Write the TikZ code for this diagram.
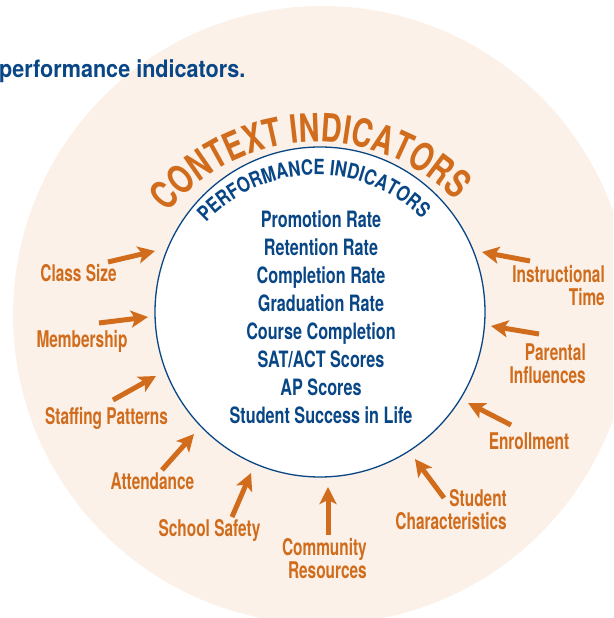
\documentclass[tikz,border=0pt]{standalone}
\usepackage{fontspec}
\usetikzlibrary{arrows.meta,decorations.text}
\setmainfont{TeX Gyre Heros}
\newfontfamily\lblfont[FakeStretch=0.67]{TeX Gyre Heros}
\newfontfamily\listfont[FakeStretch=0.72]{TeX Gyre Heros}
\newfontfamily\ctxfont[FakeStretch=0.74]{TeX Gyre Heros}
\newfontfamily\perffont[FakeStretch=0.8]{TeX Gyre Heros}
\newfontfamily\ttlfont[FakeStretch=0.9]{TeX Gyre Heros}
\definecolor{ctxorange}{RGB}{208,108,28}
\definecolor{perfblue}{RGB}{8,70,134}
\definecolor{beige}{RGB}{251,241,232}
\tikzset{
  ctxlabel/.style={text=ctxorange, font=\lblfont\bfseries\fontsize{23}{23}\selectfont, inner sep=0pt, align=right},
  ctxarrow/.style={draw=ctxorange, line width=5pt, -{Stealth[length=17pt,width=17pt,inset=4pt]}},
  listtext/.style={text=perfblue, font=\listfont\bfseries\fontsize{22.5}{28}\selectfont, inner sep=0pt, align=center},
  innercircle/.style={circle, fill=white, draw=perfblue, line width=1.3pt, minimum size=330pt, inner sep=0pt}
}
\begin{document}
\begin{tikzpicture}[x=1pt,y=1pt]
\useasboundingbox (0,0) rectangle (613,618);
\begin{scope}
  \clip (0,0) rectangle (613,618);
  \fill[beige] (322,303) circle[radius=309];
\end{scope}
\node[innercircle] (inner) at (320,306) {};
% title
\node[anchor=base west, inner sep=0pt, text=perfblue, font=\ttlfont\bfseries\fontsize{24}{24}\selectfont] (title) at (-1,540) {performance indicators.};
% arc titles
\path[decorate, decoration={text along path, text={|\ctxfont\bfseries\fontsize{39}{39}\selectfont|CONTEXT INDICATORS}, text align=center, text color=ctxorange}]
  (317,283) ++(152.5:193) arc[start angle=152.5, end angle=32.5, radius=193];
\path[decorate, decoration={text along path, text={|\perffont\bfseries\fontsize{21}{21}\selectfont|PERFORMANCE INDICATORS}, text align=center, text color=perfblue}]
  (316,293) ++(151:150) arc[start angle=151, end angle=31, radius=150];
% performance list
\node[listtext, anchor=north] (perflist) at (321,407.4) {Promotion Rate\\Retention Rate\\Completion Rate\\Graduation Rate\\Course Completion\\SAT/ACT Scores\\AP Scores\\Student Success in Life};
% context labels
\node[ctxlabel, anchor=base] (clsz) at (78.5,336.3) {Class Size};
\node[ctxlabel, anchor=base] (memb) at (82,270) {Membership};
\node[ctxlabel, anchor=base] (staff) at (106.5,193) {Staffing Patterns};
\node[ctxlabel, anchor=base] (attend) at (152.5,128) {Attendance};
\node[ctxlabel, anchor=base] (safety) at (209.5,81) {School Safety};
\node[ctxlabel, anchor=north east] (commres) at (367,79.7) {Community\\Resources};
\node[ctxlabel, anchor=north east] (studch) at (507,128.7) {Student\\Characteristics};
\node[ctxlabel, anchor=base] (enroll) at (529,168) {Enrollment};
\node[ctxlabel, anchor=north east] (parent) at (586,274.7) {Parental\\Influences};
\node[ctxlabel, anchor=north east] (instr) at (605,353) {Instructional\\Time};
% arrows
\coordinate (t1) at (108,356);  \coordinate (h1) at (155,367);
\coordinate (t2) at (99,295);   \coordinate (h2) at (148,301);
\coordinate (t3) at (113,218);  \coordinate (h3) at (156,242);
\coordinate (t4) at (162,148);  \coordinate (h4) at (194,184);
\coordinate (t5) at (232,101);  \coordinate (h5) at (251,145);
\coordinate (t6) at (328,83);   \coordinate (h6) at (328,131);
\coordinate (t7) at (444,120);  \coordinate (h7) at (415,159);
\coordinate (t8) at (511,193);  \coordinate (h8) at (468,215);
\coordinate (t9) at (539,284);  \coordinate (h9) at (491,292);
\coordinate (t10) at (530,357); \coordinate (h10) at (482,366);
\foreach \i in {1,...,10} { \draw[ctxarrow] (t\i) -- (h\i); }
\end{tikzpicture}
\end{document}
